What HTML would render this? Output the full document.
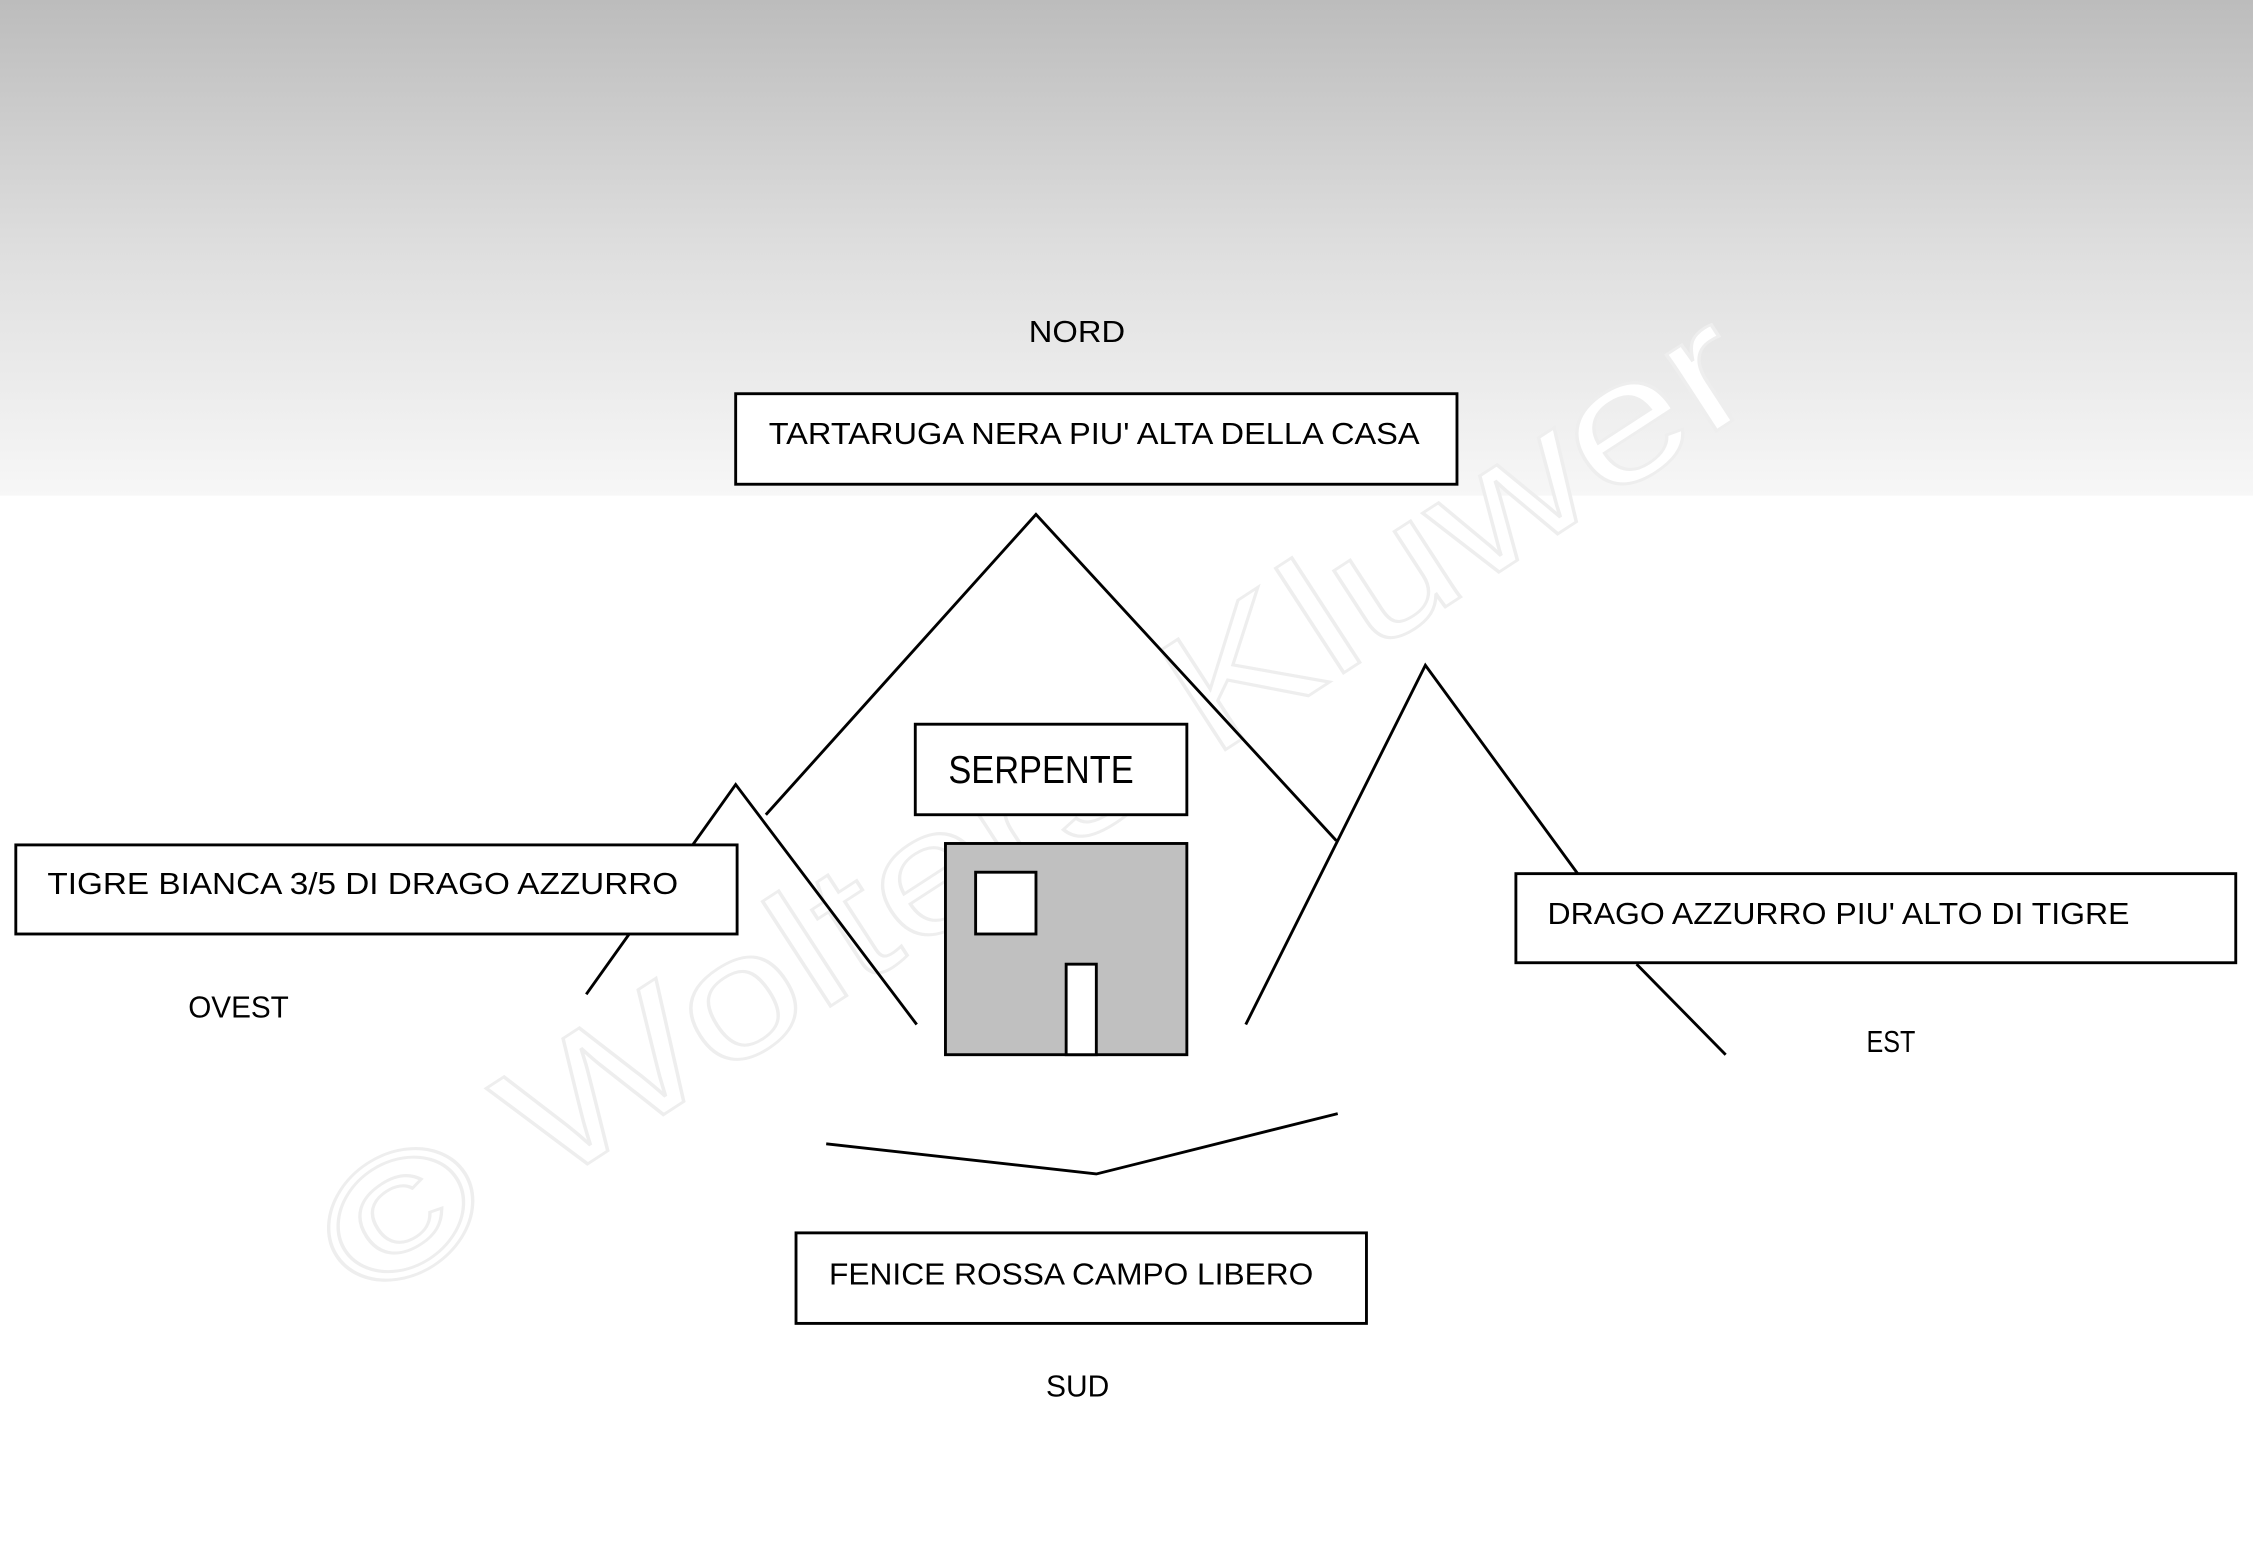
<!DOCTYPE html>
<html><head><meta charset="utf-8"><style>html,body{margin:0;padding:0;background:#fff}svg{display:block}</style></head>
<body>
<svg width="2253" height="1549" viewBox="0 0 1568 1078" preserveAspectRatio="none" xmlns="http://www.w3.org/2000/svg" font-family="'Liberation Sans', sans-serif">
<defs>
<linearGradient id="g" x1="0" y1="0" x2="0" y2="1">
<stop offset="0" stop-color="#bcbcbc"/>
<stop offset="0.5" stop-color="#dedede"/>
<stop offset="1" stop-color="#f7f7f7"/>
</linearGradient>
</defs>
<rect x="0" y="0" width="1568" height="345" fill="url(#g)"/>
<rect x="0" y="345" width="1568" height="733" fill="#fff"/>
<text x="0" y="0" transform="translate(255,910) rotate(-33)" font-size="120" fill="#fff" stroke="#eeeeee" stroke-width="2" textLength="1160" lengthAdjust="spacingAndGlyphs">© Wolters Kluwer</text>
<g stroke="#000" stroke-width="2" fill="none">
<polyline points="533,567 721,358 930,585"/>
<polyline points="408,692 512,546 638,713"/>
<polyline points="867,713 992,463 1098,608"/>
<line x1="1139" y1="671" x2="1201" y2="734"/>
<polyline points="575,796 763,817 931,775"/>
<rect x="512" y="274" width="502" height="63" fill="#fff"/>
<rect x="11" y="588" width="502" height="62" fill="#fff"/>
<rect x="637" y="504" width="189" height="63" fill="#fff"/>
<rect x="658" y="587" width="168" height="147" fill="#c0c0c0"/>
<rect x="679" y="607" width="42" height="43" fill="#fff"/>
<rect x="742" y="671" width="21" height="63" fill="#fff"/>
<rect x="1055" y="608" width="501" height="62" fill="#fff"/>
<rect x="554" y="858" width="397" height="63" fill="#fff"/>
</g>
<g fill="#000" font-size="21">
<text x="716" y="238" textLength="67" lengthAdjust="spacingAndGlyphs">NORD</text>
<text x="535" y="309" textLength="453" lengthAdjust="spacingAndGlyphs">TARTARUGA NERA PIU' ALTA DELLA CASA</text>
<text x="33" y="622" textLength="439" lengthAdjust="spacingAndGlyphs">TIGRE BIANCA  3/5 DI DRAGO AZZURRO</text>
<text x="131" y="708" textLength="70" lengthAdjust="spacingAndGlyphs">OVEST</text>
<text x="660" y="545" font-size="27" textLength="129" lengthAdjust="spacingAndGlyphs">SERPENTE</text>
<text x="1077" y="643" textLength="405" lengthAdjust="spacingAndGlyphs">DRAGO AZZURRO PIU' ALTO DI TIGRE</text>
<text x="1299" y="732" textLength="34" lengthAdjust="spacingAndGlyphs">EST</text>
<text x="577" y="894" textLength="337" lengthAdjust="spacingAndGlyphs">FENICE ROSSA CAMPO LIBERO</text>
<text x="728" y="972" textLength="44" lengthAdjust="spacingAndGlyphs">SUD</text>
</g>
</svg>
</body></html>
